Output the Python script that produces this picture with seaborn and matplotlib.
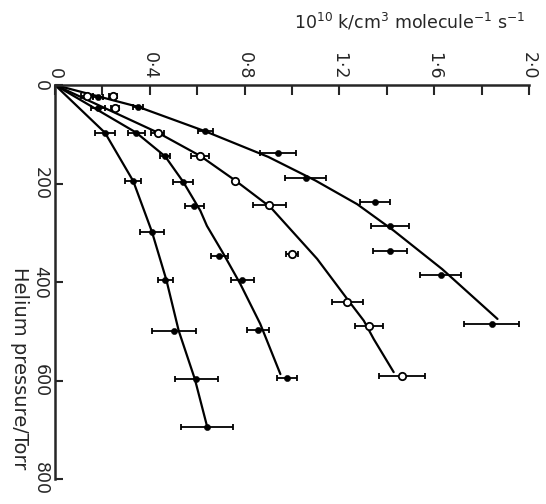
import numpy as np
import pandas as pd
import seaborn as sns
import matplotlib
matplotlib.use('Agg')
import matplotlib.pyplot as plt

# measured points: helium pressure (Torr), rate constant (1e10 cm3/molecule/s), half error bar
s1_p = [97.5, 195.5, 298.5, 396, 499, 597, 695]
s1_k = [0.211, 0.330, 0.409, 0.465, 0.502, 0.596, 0.641]
s1_err = [0.044, 0.034, 0.049, 0.032, 0.093, 0.091, 0.110]

s2_p = [46, 96.5, 145, 196, 246, 348, 396, 497, 595]
s2_k = [0.183, 0.342, 0.465, 0.540, 0.587, 0.694, 0.790, 0.855, 0.979]
s2_err = [0.030, 0.036, 0.021, 0.044, 0.040, 0.034, 0.049, 0.046, 0.044]

s3_p = [22, 22, 46, 96.5, 144, 194, 244, 343, 440, 490, 590]
s3_k = [0.134, 0.246, 0.254, 0.433, 0.613, 0.761, 0.904, 1.000, 1.233, 1.324, 1.465]
s3_err = [0.025, 0.017, 0.017, 0.027, 0.038, 0.0, 0.070, 0.026, 0.065, 0.058, 0.097]

s4_p = [24, 44.5, 94, 139, 189, 237, 287, 338, 386, 485]
s4_k = [0.183, 0.352, 0.634, 0.941, 1.057, 1.350, 1.413, 1.413, 1.627, 1.842]
s4_err = [0.021, 0.021, 0.032, 0.074, 0.085, 0.065, 0.079, 0.072, 0.087, 0.115]

# drawn curves
c1_p = [0, 97, 195, 298, 396, 499, 597, 690]
c1_k = [0, 0.211, 0.330, 0.409, 0.470, 0.522, 0.590, 0.640]
c2_p = [0, 96.5, 145, 196, 255, 286, 343, 404, 485, 587]
c2_k = [0, 0.342, 0.465, 0.540, 0.613, 0.641, 0.711, 0.782, 0.866, 0.951]
c3_p = [0, 96.5, 144, 194, 248, 353, 434.5, 478.6, 516, 583]
c3_k = [0, 0.433, 0.613, 0.761, 0.909, 1.106, 1.233, 1.303, 1.345, 1.429]
c4_p = [0, 44.5, 94, 146, 194, 242, 296, 374, 475]
c4_k = [0, 0.352, 0.634, 0.900, 1.099, 1.275, 1.430, 1.634, 1.867]

k_ticks = [0, 0.4, 0.8, 1.2, 1.6, 2.0]
k_labels = ['0', '0·4', '0·8', '1·2', '1·6', '2·0']
p_ticks = [0, 200, 400, 600, 800]
p_labels = ['0', '200', '400', '600', '800']

sns.set_style('ticks')
plt.rcParams['font.family'] = ['DejaVu Sans']
plt.rcParams['mathtext.default'] = 'regular'

fig = plt.figure(figsize=(5.46, 5.04), dpi=100)
ax = fig.add_axes([55/546, 1 - 479/504, 474/546, 394/504])

# fitted curves
for cp, ck in [(c1_p, c1_k), (c2_p, c2_k), (c3_p, c3_k), (c4_p, c4_k)]:
    sns.lineplot(x=ck, y=cp, sort=False, estimator=None, color='black', lw=1.6, ax=ax)

# points with horizontal error bars
series = [(s1_p, s1_k, s1_err, True), (s2_p, s2_k, s2_err, True),
          (s3_p, s3_k, s3_err, False), (s4_p, s4_k, s4_err, True)]
for p, k, e, filled in series:
    ax.errorbar(k, p, xerr=e, fmt='none', ecolor='black', elinewidth=1.3,
                capsize=2.5, capthick=1.3, zorder=3)
    df = pd.DataFrame({'k': k, 'p': p})
    if filled:
        sns.scatterplot(data=df, x='k', y='p', marker='o', s=20, color='black',
                        edgecolor='black', zorder=4, ax=ax)
    else:
        sns.scatterplot(data=df, x='k', y='p', marker='o', s=28, facecolor='white',
                        edgecolor='black', linewidth=1.3, zorder=4, ax=ax)

ax.set_xlim(0, 2.0)
ax.set_ylim(800, 0)
ax.xaxis.tick_top()
ax.set_xticks(k_ticks)
ax.set_xticklabels(k_labels)
ax.set_xticks([0.2, 0.6, 1.0, 1.4, 1.8], minor=True)
ax.set_yticks(p_ticks)
ax.set_yticklabels(p_labels)
ax.tick_params(axis='x', which='both', direction='in', length=7, width=1.5,
               labelsize=12.5, labelrotation=-90, pad=4)
ax.tick_params(axis='y', direction='in', length=6, width=1.5,
               labelsize=12.5, labelrotation=-90, pad=4)
for lbl in ax.get_yticklabels():
    lbl.set_va('center')
for s in ['right', 'bottom']:
    ax.spines[s].set_visible(False)
for s in ['top', 'left']:
    ax.spines[s].set_linewidth(1.8)
ax.set_xlabel('')
ax.set_ylabel('Helium pressure/Torr', fontsize=14, rotation=-90,
              va='center', ha='center')
ax.yaxis.set_label_coords(-0.074, 0.28)

fig.text(525/546, 1 - 29/504, r'$10^{10}$ k/cm$^3$ molecule$^{-1}$ s$^{-1}$',
         fontsize=12.5, ha='right', va='baseline')

fig.savefig('out.png', dpi=100)
